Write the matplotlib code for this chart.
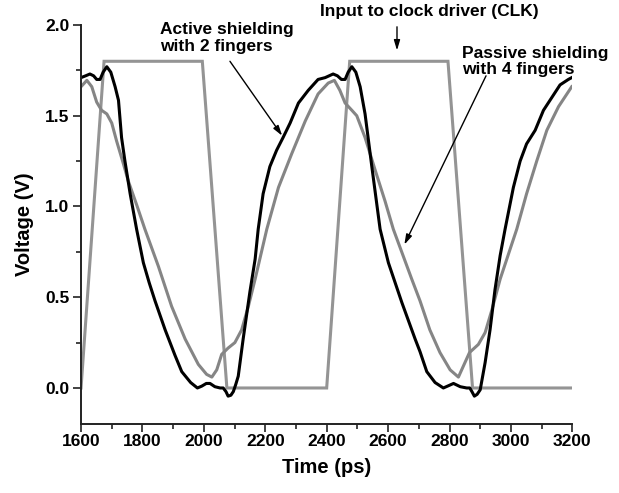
import matplotlib
matplotlib.use("Agg")
import matplotlib.pyplot as plt
from matplotlib.ticker import MultipleLocator

plt.rcParams['font.family'] = ['Liberation Sans', 'DejaVu Sans']
plt.rcParams['font.weight'] = 'bold'

# input to clock driver (CLK)
clk_t = [1600, 1675, 1995, 2075, 2400, 2475, 2795, 2875, 3200]
clk_v = [0.0, 1.8, 1.8, 0.0, 0.0, 1.8, 1.8, 0.0, 0.0]

# active shielding with 2 fingers (black)
active_t = [1600, 1615, 1629, 1641, 1651, 1662, 1672, 1684, 1697, 1711, 1722,
            1732, 1743, 1760, 1781, 1803, 1822, 1841, 1874, 1906, 1928, 1957,
            1979, 1993, 2008, 2020, 2036, 2053, 2063, 2072, 2079, 2088, 2096,
            2104, 2112, 2128, 2150, 2167, 2177, 2193, 2215, 2237, 2258, 2281,
            2308, 2340, 2372, 2395, 2421, 2435, 2448, 2460, 2470, 2482, 2495,
            2509, 2525, 2547, 2574, 2601, 2645, 2688, 2704, 2726, 2753, 2780,
            2800, 2813, 2835, 2856, 2866, 2873, 2881, 2890, 2900, 2916, 2932,
            2948, 2965, 2981, 3008, 3030, 3051, 3079, 3106, 3133, 3160, 3187,
            3198]
active_v = [1.71, 1.72, 1.73, 1.72, 1.70, 1.70, 1.74, 1.77, 1.74, 1.66, 1.585,
            1.38, 1.25, 1.07, 0.875, 0.69, 0.58, 0.48, 0.32, 0.18, 0.09, 0.03,
            0.00, 0.01, 0.025, 0.025, 0.007, 0.0, 0.0, -0.02, -0.045, -0.04, -0.02,
            0.02, 0.065, 0.27, 0.53, 0.71, 0.875, 1.07, 1.22, 1.31, 1.38, 1.46,
            1.57, 1.64, 1.70, 1.71, 1.73, 1.72, 1.70, 1.70, 1.74, 1.77, 1.74,
            1.66, 1.51, 1.22, 0.875, 0.69, 0.47, 0.27, 0.20, 0.09, 0.03, 0.0,
            0.015, 0.025, 0.007, 0.0, 0.0, -0.02, -0.045, -0.035, -0.01, 0.14, 0.32,
            0.54, 0.73, 0.875, 1.105, 1.25, 1.345, 1.42, 1.53, 1.60, 1.67, 1.70,
            1.71]

# passive shielding with 4 fingers (grey)
passive_t = [1600, 1619, 1635, 1651, 1667, 1684, 1700, 1716, 1738, 1754, 1781,
             1808, 1852, 1895, 1939, 1982, 2009, 2026, 2042, 2058, 2079, 2101,
             2123, 2145, 2167, 2205, 2243, 2286, 2330, 2372, 2405, 2425, 2443,
             2460, 2482, 2498, 2525, 2558, 2590, 2617, 2677, 2704, 2736, 2769,
             2802, 2829, 2845, 2865, 2894, 2916, 2938, 2965, 3019, 3051, 3084,
             3117, 3155, 3198]
passive_v = [1.66, 1.695, 1.66, 1.575, 1.53, 1.51, 1.46, 1.36, 1.235, 1.14, 1.01,
             0.875, 0.67, 0.45, 0.27, 0.13, 0.075, 0.06, 0.10, 0.185, 0.22, 0.25,
             0.32, 0.45, 0.60, 0.875, 1.105, 1.29, 1.47, 1.62, 1.68, 1.695, 1.64,
             1.57, 1.53, 1.50, 1.38, 1.20, 1.03, 0.875, 0.60, 0.48, 0.32, 0.195,
             0.10, 0.06, 0.12, 0.195, 0.24, 0.305, 0.43, 0.60, 0.875, 1.07, 1.25,
             1.42, 1.55, 1.66]

fig = plt.figure(figsize=(6.19, 4.93), dpi=100)
ax = fig.add_axes([0.1309, 0.1394, 0.7937, 0.8099])

ax.plot(clk_t, clk_v, color='#949494', lw=2.2, solid_joinstyle='miter')
ax.plot(passive_t, passive_v, color='#858585', lw=2.2)
ax.plot(active_t, active_v, color='black', lw=2.2)

ax.set_xlim(1600, 3200)
ax.set_ylim(-0.2, 2.0)
ax.xaxis.set_major_locator(MultipleLocator(200))
ax.xaxis.set_minor_locator(MultipleLocator(100))
ax.yaxis.set_major_locator(MultipleLocator(0.5))
ax.yaxis.set_minor_locator(MultipleLocator(0.25))
ax.yaxis.set_major_formatter(plt.FormatStrFormatter('%.1f'))

for s in ['top', 'right']:
    ax.spines[s].set_visible(False)
for s in ['left', 'bottom']:
    ax.spines[s].set_linewidth(1.4)
    ax.spines[s].set_color('#222222')

ax.tick_params(axis='both', which='major', direction='out', length=5.5,
               width=1.2, labelsize=12.5, color='#222222')
ax.tick_params(axis='both', which='minor', direction='out', length=3.5,
               width=1.2, color='#222222')
ax.tick_params(axis='x', which='major', pad=1.5)
ax.tick_params(axis='y', which='major', pad=3)

ax.set_xlabel('Time (ps)', fontsize=14.5, fontweight='bold')
ax.set_ylabel('Voltage (V)', fontsize=14.5, fontweight='bold')
ax.xaxis.set_label_coords(0.5, -0.085)
ax.yaxis.set_label_coords(-0.095, 0.5)

arrow = dict(arrowstyle='-|>,head_length=0.6,head_width=0.18', color='black',
             lw=1.0, shrinkA=0, shrinkB=0)

ax.text(1857, 1.93, 'Active shielding\nwith 2 fingers', ha='left', va='center',
        fontsize=12.5, fontweight='bold', linespacing=1.15, clip_on=False)
ax.annotate('', xy=(2255, 1.39), xytext=(2085, 1.80), arrowprops=arrow,
            annotation_clip=False)

ax.text(2734, 2.075, 'Input to clock driver (CLK)', ha='center', va='center',
        fontsize=12.5, fontweight='bold', clip_on=False)
ax.annotate('', xy=(2629, 1.86), xytext=(2629, 1.99), arrowprops=arrow,
            annotation_clip=False)

ax.text(2841, 1.80, 'Passive shielding\nwith 4 fingers', ha='left',
        va='center', fontsize=12.5, fontweight='bold', linespacing=1.1,
        clip_on=False)
ax.annotate('', xy=(2653, 0.79), xytext=(2919, 1.72), arrowprops=arrow,
            annotation_clip=False)

fig.savefig('out.png', dpi=100)
